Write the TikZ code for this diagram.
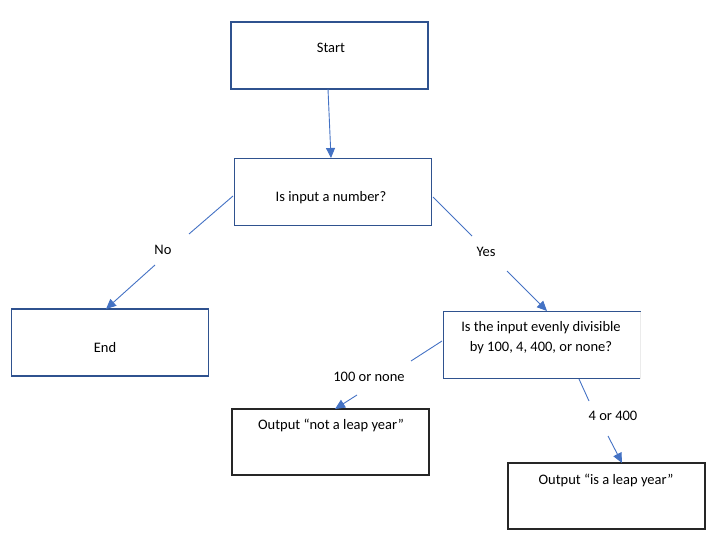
\documentclass[tikz,border=0pt]{standalone}
\usepackage{fontspec}
\setmainfont{Carlito}
\usetikzlibrary{arrows.meta}
\definecolor{boxblue}{HTML}{2F528F}
\definecolor{linkblue}{HTML}{4472C4}
\tikzset{
  bluebox/.style={draw=boxblue, line width=1.25pt, inner sep=0pt, outer sep=0pt, minimum width=197pt, minimum height=67pt},
  blackbox/.style={draw=black!85, line width=1.1pt, inner sep=0pt, outer sep=0pt, minimum width=197pt, minimum height=66pt},
  txt/.style={font=\fontsize{14.5pt}{20pt}\selectfont, inner sep=0pt, align=center},
  link/.style={draw=linkblue, line width=0.9pt},
  linkarrow/.style={link, -{Triangle[length=10pt,width=9pt]}}
}
\begin{document}
\begin{tikzpicture}[x=1pt,y=-1pt]
\useasboundingbox (0,0) rectangle (713,551);
% boxes
\node[bluebox] (start) at (329.5,55.5) {};
\node[bluebox] (q1) at (333,192) {};
\node[bluebox] (end) at (110,342.5) {};
\node[bluebox, draw=none] (q2) at (542,345) {};
\draw[boxblue, line width=1.25pt] (q2.north east) -- (q2.north west) -- (q2.south west) -- (q2.south east);
\draw[black!8, line width=1pt] (q2.north east) -- (q2.south east);
\node[blackbox] (out1) at (330.5,442) {};
\node[blackbox] (out2) at (606.5,496) {};
% texts
\node[txt] (startT) at (331,48) {Start};
\node[txt] (q1T) at (331,198) {Is input a number?};
\node[txt] (endT) at (105,348) {End};
\node[txt] (q2T) at (541,338) {Is the input evenly divisible\\by 100, 4, 400, or none?};
\node[txt] (out1T) at (331,425) {Output “not a leap year”};
\node[txt] (out2T) at (606,480) {Output “is a leap year”};
% labels
\node[txt] (noL) at (163,250) {No};
\node[txt] (yesL) at (486,252) {Yes};
\node[txt] (hundL) at (369,377) {100 or none};
\node[txt] (fourL) at (613,416) {4 or 400};
% connector points
\coordinate (a1) at (233,196);
\coordinate (a2) at (189,234);
\coordinate (a3) at (155,265);
\coordinate (a4) at (106,309);
\coordinate (b1) at (433,197);
\coordinate (b2) at (472,236);
\coordinate (b3) at (507,271);
\coordinate (b4) at (547,311);
\coordinate (c1) at (442,341);
\coordinate (c2) at (411,361);
\coordinate (c3) at (357,395);
\coordinate (c4) at (335,409);
\coordinate (d1) at (579,379);
\coordinate (d2) at (589,401);
\coordinate (d3) at (608,436);
\coordinate (d4) at (622,463);
% connectors
\draw[linkarrow] (328,89) -- (331,158);
\draw[link] (a1) -- (a2);
\draw[linkarrow] (a3) -- (a4);
\draw[link] (b1) -- (b2);
\draw[linkarrow] (b3) -- (b4);
\draw[link] (c1) -- (c2);
\draw[linkarrow] (c3) -- (c4);
\draw[link] (d1) -- (d2);
\draw[linkarrow] (d3) -- (d4);
\end{tikzpicture}
\end{document}
